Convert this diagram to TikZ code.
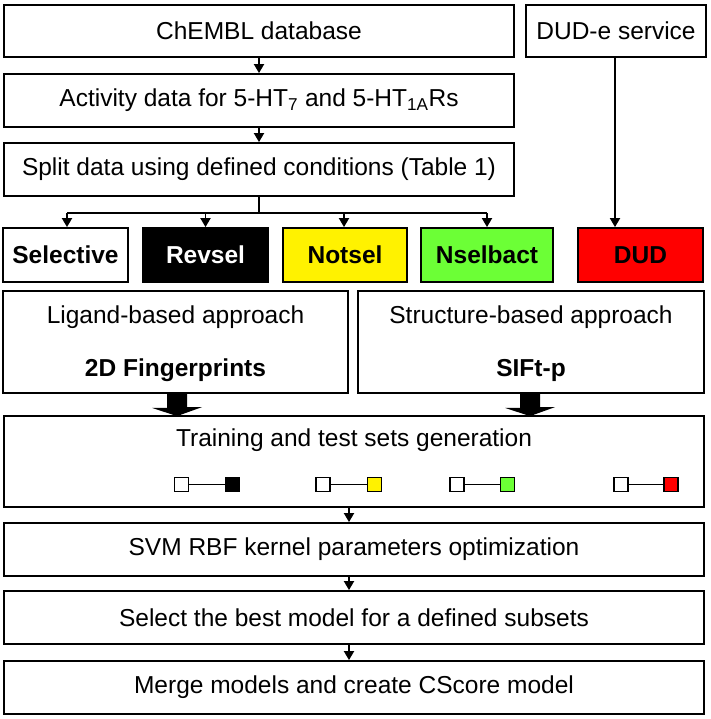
\documentclass[tikz,border=0pt]{standalone}
\usepackage{fontspec}
\setmainfont{Liberation Sans}
\usetikzlibrary{arrows.meta,calc}
\definecolor{nsgreen}{RGB}{108,255,54}
\begin{document}
\begin{tikzpicture}[x=1pt,y=-1pt,
  box/.style={draw,line width=1.8pt,rectangle,inner sep=0pt,font=\fontsize{24.5}{29}\selectfont},
  cbox/.style={box,minimum width=125pt,minimum height=54pt,font=\fontsize{24.5}{29}\selectfont\bfseries},
  lbl/.style={anchor=base,inner sep=0pt,font=\fontsize{24.5}{29}\selectfont},
  arr/.style={line width=1.8pt,-{Triangle[width=10pt,length=9pt]}},
  ln/.style={line width=1.8pt},
  sq/.style={draw,line width=1.5pt,minimum size=14pt,inner sep=0pt},
  fat/.style={fill=black}]
\useasboundingbox (0,0) rectangle (710,719);
% top column
\node[box,minimum width=510pt,minimum height=52pt] (chembl) at (259,31) {ChEMBL database};
\node[box,minimum width=180pt,minimum height=52pt] (dude) at (616,31) {DUD-e service};
\node[box,minimum width=510pt,minimum height=53pt] (act) at (259,100.5) {Activity data for 5-HT\textsubscript{7} and 5-HT\textsubscript{1A}Rs};
\node[box,minimum width=510pt,minimum height=53pt] (split) at (259,169.5) {Split data using defined conditions (Table 1)};
% coloured sets
\node[cbox] (sel) at (65.5,255) {Selective};
\node[cbox,fill=black,text=white] (rev) at (205.5,255) {Revsel};
\node[cbox,fill=yellow,minimum width=124pt] (not) at (345,255) {Notsel};
\node[cbox,fill=nsgreen,minimum width=132pt] (nsb) at (487,255) {Nselbact};
\node[cbox,fill=red] (dud) at (640.5,255) {DUD};
% approaches
\node[box,minimum width=345pt,minimum height=102pt] (lig) at (175.5,342) {};
\node[box,minimum width=346pt,minimum height=102pt] (str) at (531,342) {};
\node[lbl] (ligt) at (175.5,323) {Ligand-based approach};
\node[lbl,font=\fontsize{24.5}{29}\selectfont\bfseries] (ligb) at (175.5,376) {2D Fingerprints};
\node[lbl] (strt) at (531,323) {Structure-based approach};
\node[lbl,font=\fontsize{24.5}{29}\selectfont\bfseries] (strb) at (531,376) {SIFt-p};
% training
\node[box,minimum width=700pt,minimum height=91pt] (train) at (354,461.5) {};
\node[lbl] (traint) at (354,446) {Training and test sets generation};
\node[sq,fill=white] (w1) at (181.5,484.5) {};
\node[sq,fill=black] (c1) at (232.5,484.5) {};
\node[sq,fill=white] (w2) at (323,484.5) {};
\node[sq,fill=yellow] (c2) at (374.5,484.5) {};
\node[sq,fill=white] (w3) at (457,484.5) {};
\node[sq,fill=nsgreen] (c3) at (507.5,484.5) {};
\node[sq,fill=white] (w4) at (621,484.5) {};
\node[sq,fill=red] (c4) at (671,484.5) {};
\foreach \i in {1,2,3,4} \draw[line width=1.5pt] (w\i) -- (c\i);
% bottom column
\node[box,minimum width=700pt,minimum height=53pt] (svm) at (354,549.5) {SVM RBF kernel parameters optimization};
\node[box,minimum width=700pt,minimum height=53pt] (best) at (354,617.5) {Select the best model for a defined subsets};
\node[box,minimum width=700pt,minimum height=53pt] (merge) at (354,687.5) {Merge models and create CScore model};
% connectors
\draw[arr] (chembl) -- (act);
\draw[arr] (act) -- (split);
\coordinate (hub) at ($(split.south)+(0,16)$);
\draw[ln] (split.south) -- (hub);
\draw[ln] ([xshift=1.5pt]sel.north |- hub) -- (nsb.north |- hub);
\draw[arr] ([xshift=1.5pt]sel.north |- hub) -- ([xshift=1.5pt]sel.north);
\draw[arr] (rev.north |- hub) -- (rev.north);
\draw[arr] ([xshift=-1pt]not.north |- hub) -- ([xshift=-1pt]not.north);
\draw[arr] (nsb.north |- hub) -- (nsb.north);
\draw[arr] ([xshift=-1pt]dude.south) -- ([xshift=-1pt]dude.south |- dud.north);
\coordinate (fa) at ([xshift=1.5pt]lig.south);
\coordinate (fb) at ([xshift=-1pt]str.south);
\foreach \c in {fa,fb}
  \fill (\c) ++(-10,0) -- ++(0,14) -- ++(-15,0) -- ($(\c |- train.north)+(0,1)$) -- ++(25,-9) -- ++(-15,0) -- ++(0,-14) -- cycle;
\draw[arr] ([xshift=-5pt]train.south) -- ([xshift=-5pt]svm.north);
\draw[arr] ([xshift=-5pt]svm.south) -- ([xshift=-5pt]best.north);
\draw[arr] ([xshift=-5pt]best.south) -- ([xshift=-5pt]merge.north);
\end{tikzpicture}
\end{document}
